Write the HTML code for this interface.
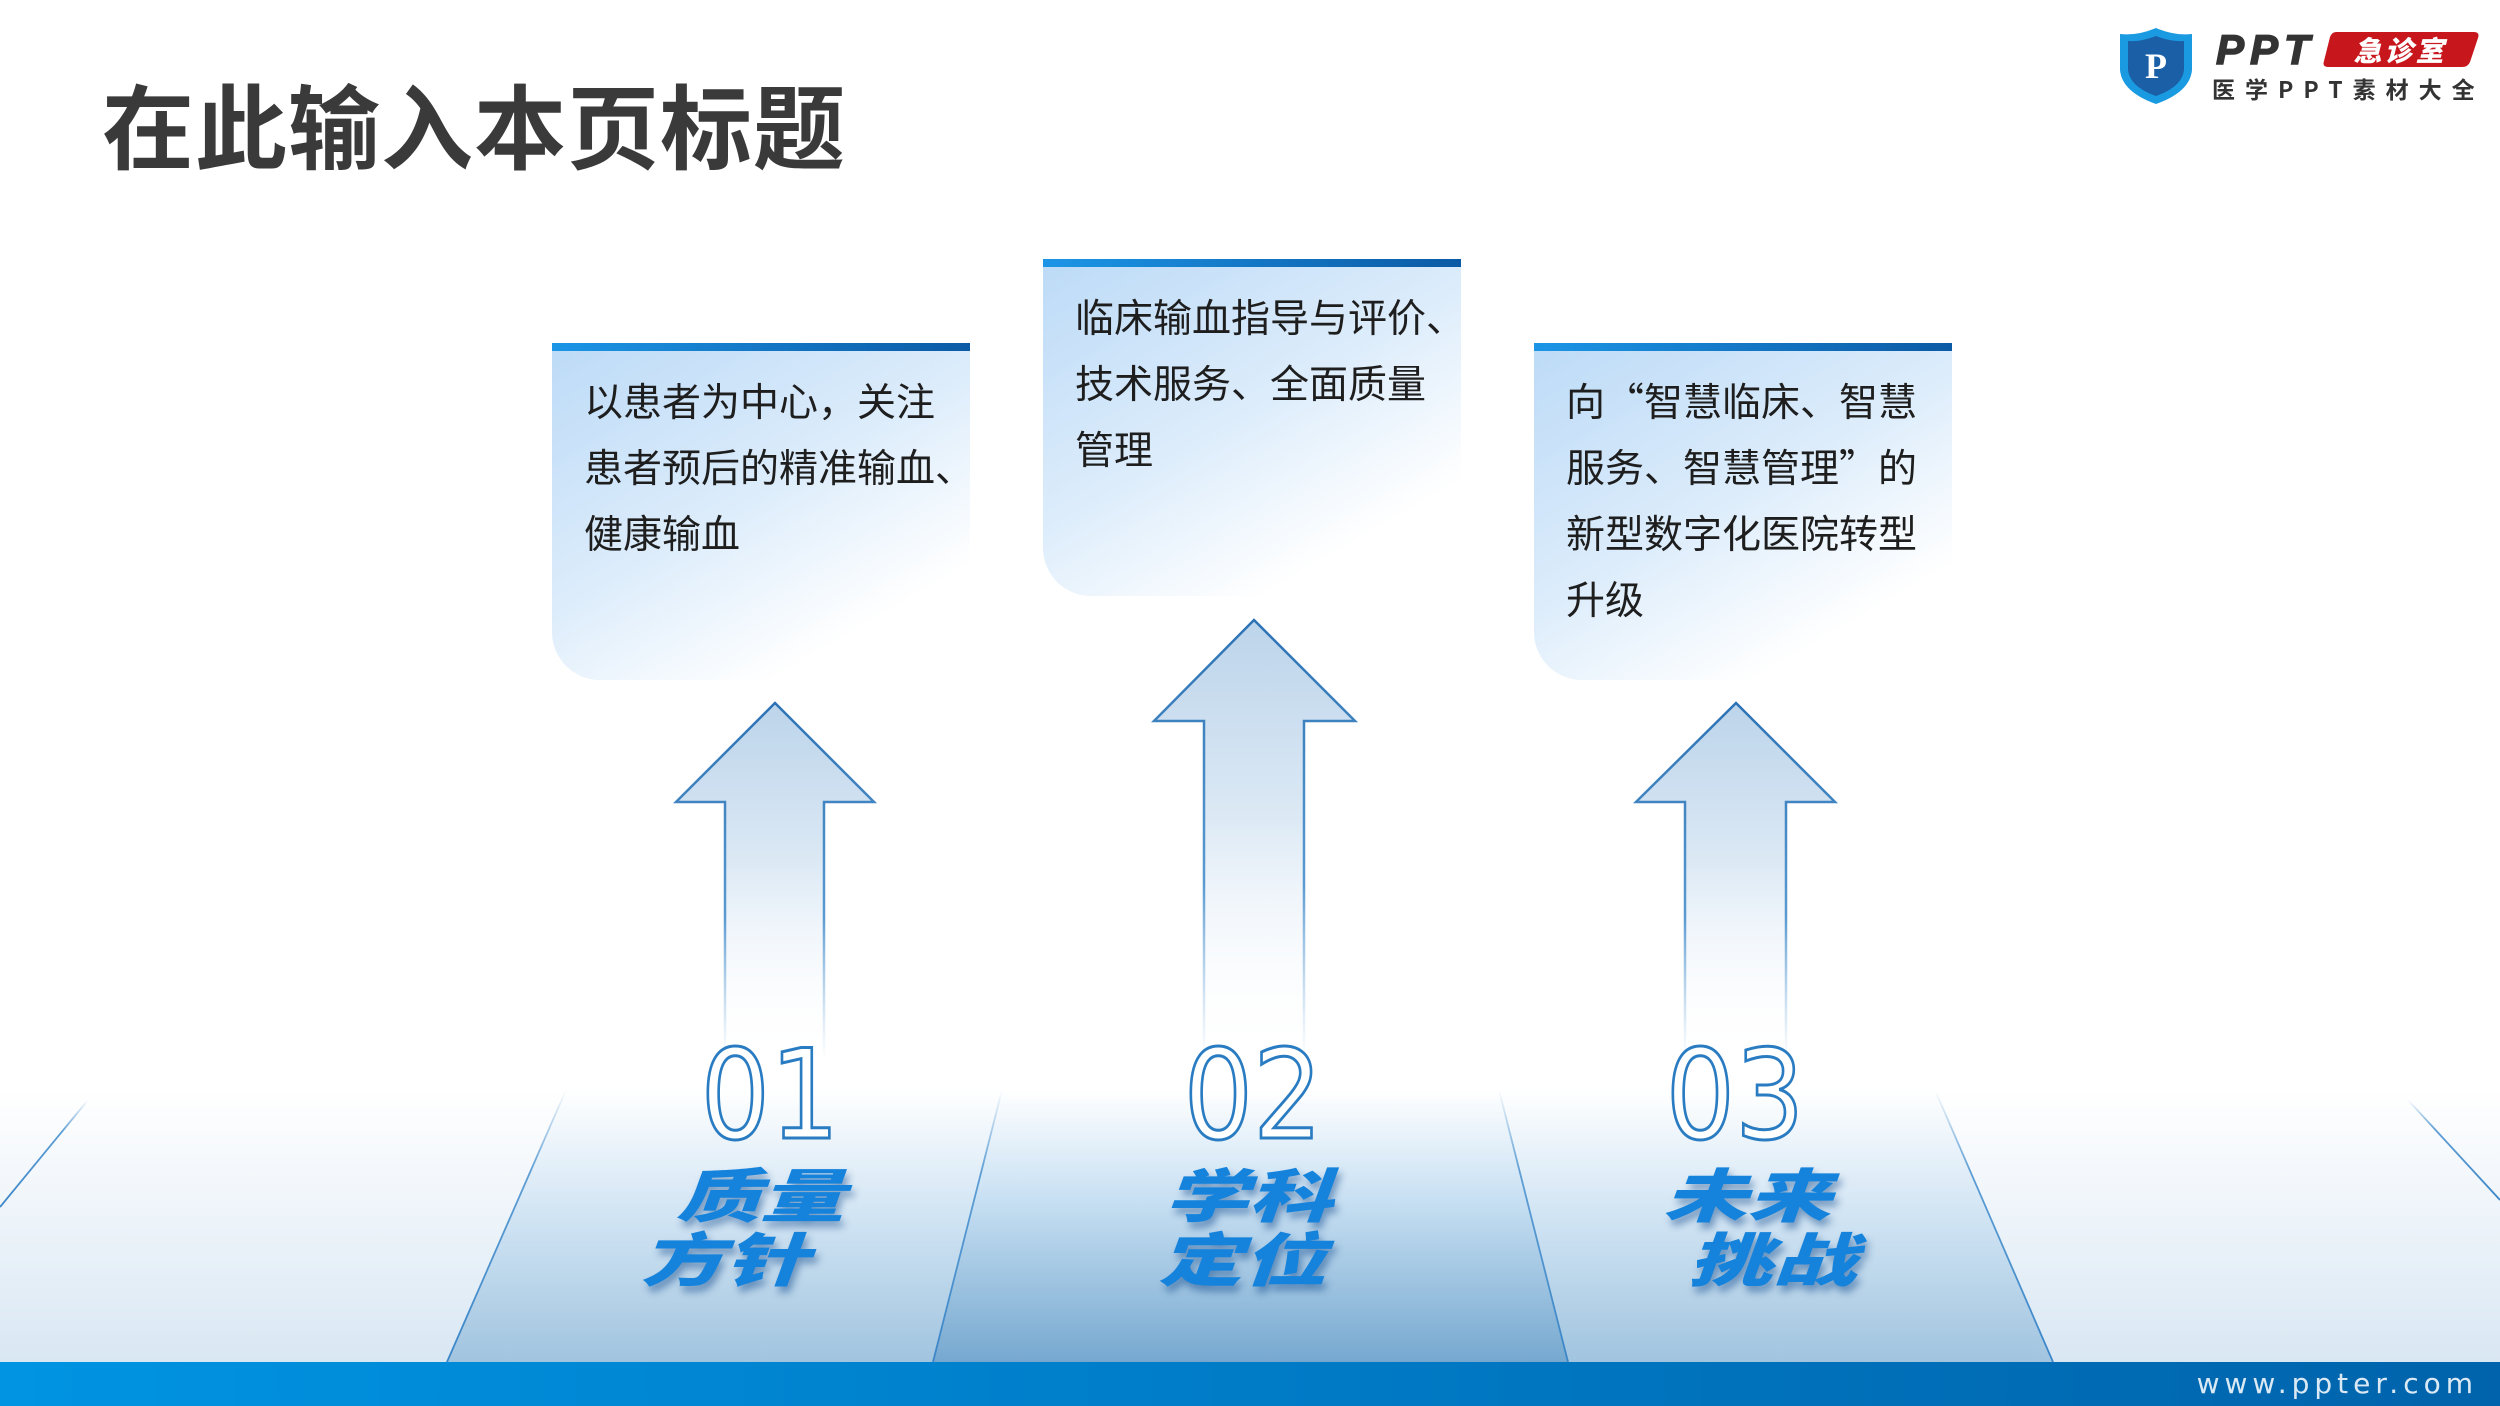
<!DOCTYPE html>
<html><head><meta charset="utf-8"><style>
*{margin:0;padding:0;box-sizing:border-box}
body{width:2500px;height:1406px;position:relative;overflow:hidden;background:#fff;font-family:"Liberation Sans","Noto Sans CJK SC",sans-serif}
.title{position:absolute;left:102px;top:56px;font-size:92px;font-weight:bold;color:#3a3a3a;font-family:"Noto Sans CJK SC",sans-serif;letter-spacing:1px}
.box{position:absolute;width:418px;border-top:8px solid #0e6fc0;border-radius:0 0 0 48px;background:linear-gradient(150deg,#bddbf7 0%,#dcecfb 45%,#ffffff 80%);}
.box::before{content:"";position:absolute;left:0;right:0;top:-8px;height:8px;background:linear-gradient(90deg,#1c95e6,#0b5aa5)}
.box p{position:absolute;left:32px;top:16px;white-space:nowrap;font-size:39px;line-height:66px;color:#1e1e1e;font-family:"Noto Sans CJK SC",sans-serif}
.num{position:absolute;font-size:124px;color:#fff;-webkit-text-stroke:3px #2a7cc2;font-family:"DejaVu Sans","Liberation Sans",sans-serif;transform:scaleX(0.88);transform-origin:center;width:300px;text-align:center;line-height:1}
.lbl{position:absolute;font-size:58px;font-weight:900;font-style:italic;color:#1583dc;line-height:64px;font-family:"Noto Sans CJK SC",sans-serif;text-shadow:2px 6px 6px rgba(0,60,130,.45);transform:scaleX(1.45);transform-origin:left top}
</style></head><body>
<svg width="2500" height="1406" style="position:absolute;left:0;top:0">
<defs>
<linearGradient id="gOut" x1="0" y1="0" x2="0" y2="1"><stop offset="0" stop-color="#fff"/><stop offset="1" stop-color="#d9e7f3"/></linearGradient>
<linearGradient id="gSide" x1="0" y1="0" x2="0" y2="1"><stop offset="0" stop-color="#fff"/><stop offset="0.45" stop-color="#d2e5f4"/><stop offset="1" stop-color="#a1c4df"/></linearGradient>
<linearGradient id="gMid" x1="0" y1="0" x2="0" y2="1"><stop offset="0" stop-color="#fff"/><stop offset="0.4" stop-color="#c8e0f3"/><stop offset="1" stop-color="#76a8cf"/></linearGradient>
<linearGradient id="gBar" x1="0" y1="0" x2="1" y2="0"><stop offset="0" stop-color="#0094e2"/><stop offset="1" stop-color="#0063ab"/></linearGradient>
<linearGradient id="gArr" x1="0" y1="0" x2="0" y2="1"><stop offset="0" stop-color="#bcd4ea"/><stop offset="0.45" stop-color="#dce9f5"/><stop offset="1" stop-color="#ffffff" stop-opacity="0"/></linearGradient>
<linearGradient id="gArrS" x1="0" y1="0" x2="0" y2="1"><stop offset="0" stop-color="#2c72b5"/><stop offset="0.6" stop-color="#5a9ad0"/><stop offset="1" stop-color="#9cc3e6" stop-opacity="0"/></linearGradient>
<linearGradient id="gLine" x1="0" y1="0" x2="0" y2="1"><stop offset="0" stop-color="#5e9ed4" stop-opacity="0"/><stop offset="0.3" stop-color="#5e9ed4"/><stop offset="1" stop-color="#3c86c8"/></linearGradient>
</defs>
<polygon points="0,1090 2500,1090 2500,1362 0,1362" fill="url(#gOut)"/>
<polygon points="566,1090 1002,1090 933,1362 447,1362" fill="url(#gSide)"/>
<polygon points="1499,1090 1935,1090 2053,1362 1568,1362" fill="url(#gSide)"/>
<polygon points="1002,1090 1499,1090 1568,1362 933,1362" fill="url(#gMid)"/>
<g stroke="url(#gLine)" stroke-width="1.8" fill="none">
<line x1="566" y1="1090" x2="447" y2="1362"/>
<line x1="1002" y1="1090" x2="933" y2="1362"/>
<line x1="1499" y1="1090" x2="1568" y2="1362"/>
<line x1="1935" y1="1090" x2="2053" y2="1362"/>
<line x1="88" y1="1100" x2="0" y2="1207"/>
<line x1="2408" y1="1100" x2="2500" y2="1200"/>
</g>
<rect x="0" y="1362" width="2500" height="44" fill="url(#gBar)"/>
<text x="2478" y="1385" text-anchor="end" font-size="28" fill="#dbe9f5" font-family="DejaVu Sans,sans-serif" letter-spacing="5" dominant-baseline="middle">www.ppter.com</text>
<g fill="url(#gArr)" stroke="url(#gArrS)" stroke-width="2.5">
<polygon points="775,703 874,802 824,802 824,1060 725,1060 725,802 676,802"/>
<polygon points="1254,620 1355,721 1304,721 1304,1060 1204,1060 1204,721 1154,721"/>
<polygon points="1736,703 1835,802 1786,802 1786,1060 1685,1060 1685,802 1636,802"/>
</g>
<path d="M2156,28 Q2175,36 2192,34 L2192,70 Q2190,92 2156,104 Q2122,92 2120,70 L2120,34 Q2137,36 2156,28Z" fill="#1a9ae0"/>
<path d="M2156,36 Q2171,42 2184,41 L2184,70 Q2182,87 2156,96 Q2130,87 2128,70 L2128,41 Q2141,42 2156,36Z" fill="#1b5fa6"/>
<text x="2156" y="78" text-anchor="middle" font-size="36" font-weight="bold" fill="#fff" font-family="Liberation Serif,serif">P</text>
<text x="2216" y="64" font-size="42" font-weight="900" font-style="italic" fill="#333" font-family="Liberation Sans,sans-serif" letter-spacing="6" stroke="#333" stroke-width="1.5">PPT</text>
<path d="M2336,32 L2474,32 Q2480,32 2478,38 L2470,62 Q2468,67 2462,67 L2328,67 Q2322,67 2324,61 L2330,37 Q2332,32 2336,32Z" fill="#c8161d"/>
<text x="2400" y="61" text-anchor="middle" font-size="28" font-weight="900" font-style="italic" fill="#fff" font-family="Noto Sans CJK SC,sans-serif" letter-spacing="3">急诊室</text>
<text x="2212" y="98" font-size="23" fill="#333" font-weight="bold" font-family="Noto Sans CJK SC,sans-serif" letter-spacing="10">医学PPT素材大全</text>
</svg>
<div class="title">在此输入本页标题</div>
<div class="box" style="left:552px;top:343px;height:337px"><p>以患者为中心，关注<br>患者预后的精准输血、<br>健康输血</p></div>
<div class="box" style="left:1043px;top:259px;height:337px"><p>临床输血指导与评价、<br>技术服务、全面质量<br>管理</p></div>
<div class="box" style="left:1534px;top:343px;height:337px"><p>向“智慧临床、智慧<br>服务、智慧管理”的<br>新型数字化医院转型<br>升级</p></div>
<div class="num" style="left:620px;top:1034px">01</div>
<div class="num" style="left:1103px;top:1034px">02</div>
<div class="num" style="left:1585px;top:1034px">03</div>
<div class="lbl" style="left:676px;top:1160px">质量</div>
<div class="lbl" style="left:640px;top:1224px">方针</div>
<div class="lbl" style="left:1164px;top:1160px">学科</div>
<div class="lbl" style="left:1158px;top:1224px">定位</div>
<div class="lbl" style="left:1663px;top:1160px">未来</div>
<div class="lbl" style="left:1688px;top:1224px">挑战</div>
</body></html>
